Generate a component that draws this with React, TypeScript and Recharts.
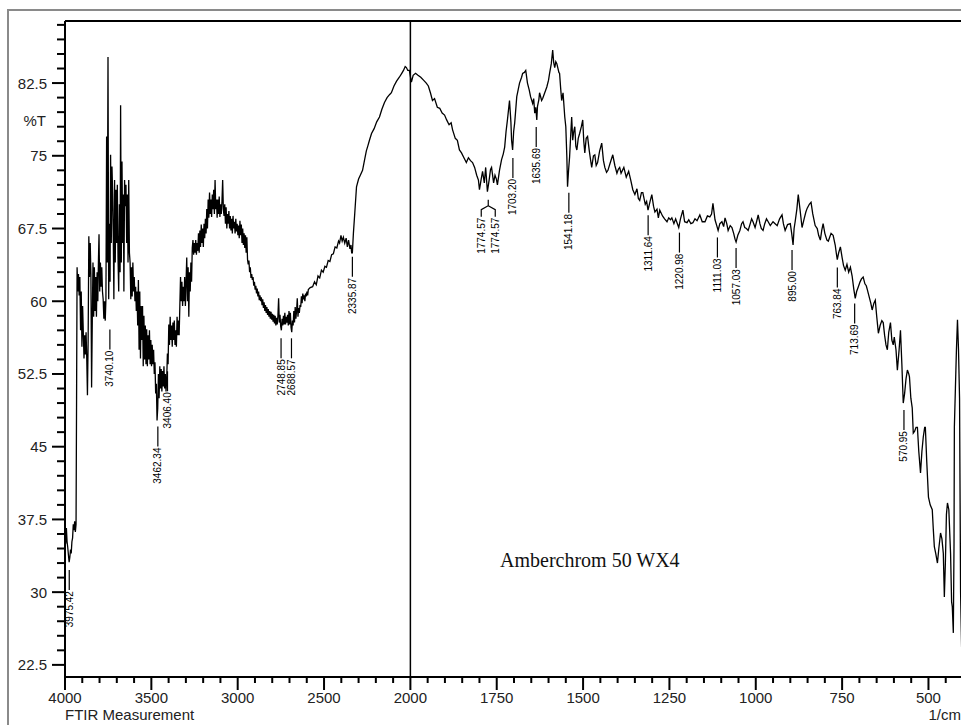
import {
  ComposedChart,
  Line,
  ReferenceDot,
  ReferenceLine,
  XAxis,
  YAxis,
} from "recharts";

// [wavenumber 1/cm, %T]
const spectrumOH: [number, number][] = [
  [4000, 36.2], [3996, 35.0], [3992, 36.6], [3988, 35.2], [3984, 34.6], [3980, 33.8],
  [3976, 33.1], [3972, 33.6], [3968, 34.4], [3964, 34.0], [3960, 35.2], [3956, 35.6],
  [3952, 37.0], [3948, 36.4], [3944, 37.3], [3940, 36.2], [3936, 37.0], [3933, 49.9],
  [3930, 63.5], [3926, 61.0], [3922, 62.8], [3918, 60.6], [3914, 62.5], [3910, 57.0],
  [3906, 61.0], [3902, 55.3], [3898, 59.5], [3894, 56.8], [3890, 54.1], [3886, 56.5],
  [3882, 54.5], [3878, 56.8], [3874, 54.1], [3870, 50.3], [3866, 56.0], [3862, 66.7],
  [3858, 62.5], [3854, 66.0], [3850, 62.8], [3846, 51.1], [3842, 58.0], [3838, 64.0],
  [3834, 58.4], [3830, 63.5], [3826, 59.0], [3822, 62.5], [3818, 58.4], [3814, 63.0],
  [3810, 60.0], [3806, 64.5], [3803, 66.9], [3799, 61.0], [3795, 64.0], [3791, 61.5],
  [3787, 63.5], [3783, 61.0], [3779, 60.2], [3775, 58.2], [3771, 60.0], [3767, 58.0],
  [3763, 60.2], [3759, 77.0], [3755, 64.0], [3751, 85.2], [3747, 60.2], [3743, 68.0],
  [3739, 62.0], [3736, 75.1], [3732, 66.0], [3728, 73.9], [3724, 71.0], [3720, 66.0],
  [3717, 60.2], [3713, 72.5], [3709, 64.0], [3705, 71.5], [3701, 66.0], [3697, 72.0],
  [3693, 64.5], [3689, 61.0], [3685, 70.0], [3681, 63.0], [3678, 80.2], [3674, 64.0],
  [3670, 74.4], [3666, 66.0], [3662, 71.0], [3659, 61.0], [3655, 72.5], [3651, 69.8],
  [3647, 72.0], [3643, 66.0], [3639, 71.0], [3635, 64.0], [3631, 72.5], [3627, 65.0],
  [3623, 64.0], [3619, 60.2], [3615, 63.5], [3611, 60.5], [3607, 64.0], [3603, 61.0],
  [3599, 62.5], [3595, 60.0], [3591, 61.5], [3587, 59.0], [3583, 61.0], [3579, 57.5],
  [3575, 62.2], [3571, 55.0], [3567, 61.0], [3563, 54.1], [3559, 59.5], [3555, 56.0],
  [3551, 59.5], [3547, 53.3], [3543, 58.5], [3539, 54.0], [3535, 57.5], [3531, 53.5],
  [3527, 57.1], [3523, 53.3], [3519, 56.5], [3515, 54.0], [3511, 57.0], [3507, 53.5],
  [3503, 56.0], [3499, 53.3], [3495, 55.5], [3491, 53.5], [3487, 55.0], [3483, 52.5],
  [3479, 53.7], [3475, 50.5], [3471, 51.5], [3467, 47.7], [3463, 49.0], [3459, 52.5],
  [3455, 50.0], [3451, 53.3], [3447, 51.0], [3443, 53.0], [3439, 50.7], [3435, 52.8],
  [3431, 51.2], [3427, 53.3], [3423, 51.0], [3419, 52.5], [3415, 50.7], [3411, 52.0],
  [3407, 54.6], [3403, 53.5], [3399, 57.6], [3395, 55.5], [3391, 58.4], [3387, 56.0],
  [3383, 57.5], [3379, 55.3], [3375, 57.8], [3371, 56.0], [3367, 58.0], [3363, 55.5],
  [3359, 57.0], [3355, 55.3], [3351, 58.4], [3347, 56.5], [3343, 58.0], [3339, 56.5],
  [3335, 59.5], [3331, 62.5], [3327, 60.0], [3323, 62.0], [3319, 59.5], [3315, 61.5],
  [3311, 60.0], [3307, 62.5], [3303, 59.5], [3299, 62.0], [3295, 64.5], [3291, 60.0],
  [3287, 63.5], [3283, 58.4], [3279, 63.0], [3275, 61.0], [3271, 64.0], [3267, 62.0],
  [3263, 65.5], [3259, 66.3], [3255, 64.8], [3251, 66.0], [3247, 65.0], [3243, 66.3],
  [3239, 64.8], [3235, 66.0], [3231, 65.2], [3227, 67.0], [3223, 65.0], [3219, 67.3],
  [3215, 65.6], [3211, 67.9], [3207, 66.0], [3203, 67.5], [3199, 65.6], [3195, 68.0],
  [3191, 66.5], [3187, 68.5], [3183, 67.0], [3179, 69.5], [3175, 67.5], [3171, 70.5],
  [3167, 68.6], [3163, 71.2], [3159, 69.0], [3155, 70.5], [3151, 68.7], [3147, 71.0],
  [3143, 69.5], [3139, 71.5], [3135, 69.0], [3131, 72.5], [3127, 69.5], [3123, 70.5],
  [3119, 68.6], [3115, 70.5], [3111, 69.0], [3107, 70.8], [3103, 68.7], [3099, 70.0],
  [3095, 69.0], [3091, 70.3], [3087, 72.5], [3083, 69.5], [3079, 68.8], [3075, 70.0],
  [3071, 68.0], [3067, 69.7], [3063, 67.5], [3059, 69.0], [3055, 68.0], [3051, 69.3],
  [3047, 67.5], [3043, 68.8], [3039, 67.3], [3035, 68.5], [3031, 67.0], [3027, 68.8],
  [3023, 67.5], [3019, 68.2], [3015, 67.0], [3011, 68.5], [3007, 67.2], [3003, 68.0],
];

const spectrumCH: [number, number][] = [
  [2999, 66.8], [2995, 67.8], [2991, 66.5], [2987, 68.3], [2983, 66.8], [2979, 67.9],
  [2975, 66.0], [2971, 67.5], [2967, 65.8], [2963, 67.0], [2959, 65.5], [2955, 66.8],
  [2951, 65.0], [2947, 66.6], [2943, 64.3], [2939, 63.8], [2935, 64.2], [2931, 63.0],
  [2927, 63.5], [2923, 62.4], [2919, 62.8], [2915, 62.2], [2911, 62.5], [2907, 61.6],
  [2903, 62.0], [2899, 61.2], [2895, 61.6], [2891, 60.8], [2887, 61.3], [2883, 60.5],
  [2879, 61.0], [2875, 60.1], [2871, 60.6], [2867, 60.0], [2863, 60.4], [2859, 59.6],
  [2855, 60.2], [2851, 59.3], [2847, 59.9], [2843, 59.0], [2839, 59.6], [2835, 58.8],
  [2831, 59.4], [2827, 58.6], [2823, 59.2], [2819, 58.4], [2815, 59.0], [2811, 58.2],
  [2807, 58.9], [2803, 58.1], [2799, 58.7], [2795, 57.9], [2791, 58.6], [2787, 57.7],
  [2783, 58.5], [2779, 57.5], [2775, 58.3], [2771, 57.6], [2767, 58.5], [2763, 60.3],
  [2759, 57.8], [2755, 58.6], [2751, 57.4], [2747, 57.0], [2743, 58.2], [2739, 57.5],
  [2735, 58.5], [2731, 57.6], [2727, 58.8], [2723, 57.6], [2719, 58.4], [2715, 57.8],
  [2711, 58.6], [2707, 57.5], [2703, 59.0], [2699, 57.6], [2695, 58.8], [2691, 57.3],
  [2687, 56.8], [2683, 58.0], [2679, 57.5], [2675, 59.0], [2671, 57.8], [2667, 59.4],
  [2663, 58.2], [2659, 59.0], [2655, 60.3], [2651, 58.4], [2647, 59.3], [2643, 58.8],
  [2639, 59.6], [2635, 59.4], [2631, 60.5], [2627, 59.8], [2623, 60.8], [2619, 60.2],
  [2615, 60.6], [2611, 60.0], [2607, 60.8], [2603, 60.5], [2599, 61.0], [2595, 60.6],
  [2591, 61.2], [2580, 61.4], [2566, 61.5], [2555, 62.0], [2545, 61.7], [2535, 62.6],
  [2525, 62.4], [2515, 63.2], [2505, 63.0], [2495, 63.6], [2486, 63.5], [2476, 64.2],
  [2466, 64.1], [2456, 64.8], [2446, 64.9], [2436, 65.6], [2426, 65.5], [2416, 66.2],
  [2410, 66.0], [2402, 66.8], [2395, 66.2], [2388, 66.6], [2380, 66.0], [2372, 66.5],
  [2365, 65.6], [2358, 66.3], [2350, 65.4], [2344, 65.8], [2340, 65.0], [2336, 65.0],
  [2330, 67.0], [2322, 69.1], [2312, 71.8], [2300, 72.6], [2290, 73.0], [2277, 73.5],
  [2265, 74.6], [2255, 75.5], [2245, 76.1], [2237, 76.6], [2225, 77.3], [2210, 77.8],
  [2195, 78.5], [2179, 79.0], [2165, 79.8], [2150, 80.5], [2135, 81.0], [2121, 81.3],
  [2110, 81.5], [2095, 82.2], [2080, 82.7], [2064, 83.1], [2050, 83.5], [2040, 83.8],
  [2030, 84.2], [2023, 84.1], [2015, 83.8], [2006, 83.8], [2001, 83.3],
];

const spectrumFingerprint: [number, number][] = [
  [1997, 82.6], [1992, 83.3], [1985, 83.5], [1978, 83.3], [1970, 83.1], [1962, 82.8],
  [1954, 82.5], [1948, 82.2], [1942, 81.5], [1936, 80.7], [1930, 80.9], [1922, 80.0],
  [1915, 79.9], [1908, 79.4], [1901, 79.2], [1895, 78.7], [1888, 78.2], [1882, 78.4],
  [1878, 77.7], [1870, 76.8], [1864, 76.6], [1858, 75.6], [1852, 75.3], [1845, 74.8],
  [1838, 74.3], [1832, 74.8], [1826, 74.5], [1820, 74.3], [1814, 73.8], [1808, 73.0],
  [1803, 72.5], [1800, 71.5], [1795, 72.6], [1791, 73.4], [1786, 72.2], [1782, 73.8],
  [1777, 71.3], [1772, 72.5], [1768, 73.6], [1765, 73.8], [1759, 72.2], [1755, 73.0],
  [1751, 72.6], [1748, 72.0], [1742, 73.5], [1736, 74.6], [1731, 75.2], [1727, 75.9],
  [1723, 77.5], [1719, 78.7], [1713, 80.7], [1709, 78.5], [1707, 76.6], [1704, 75.6],
  [1701, 77.5], [1698, 78.4], [1692, 81.1], [1688, 81.8], [1684, 82.5], [1678, 83.1],
  [1675, 83.5], [1670, 83.6], [1666, 83.8], [1661, 82.5], [1656, 81.8], [1652, 81.1],
  [1646, 80.4], [1643, 80.9], [1640, 79.4], [1637, 80.0], [1634, 78.7], [1632, 80.1],
  [1628, 80.8], [1626, 81.5], [1620, 80.7], [1617, 80.9], [1611, 81.5], [1605, 82.1],
  [1600, 82.8], [1597, 83.5], [1592, 84.5], [1588, 85.9], [1585, 84.6], [1582, 84.1],
  [1579, 84.7], [1576, 84.5], [1570, 83.6], [1568, 83.5], [1565, 82.0], [1562, 80.7],
  [1558, 81.5], [1553, 79.0], [1550, 78.0], [1547, 74.9], [1545, 71.8], [1542, 73.5],
  [1539, 74.9], [1536, 77.0], [1533, 79.0], [1530, 76.6], [1527, 77.5], [1524, 78.0],
  [1521, 76.0], [1518, 75.6], [1514, 76.8], [1510, 77.3], [1505, 78.0], [1501, 78.7],
  [1498, 76.5], [1495, 75.3], [1491, 76.8], [1487, 77.0], [1482, 75.5], [1478, 74.5],
  [1475, 73.8], [1470, 75.0], [1466, 75.1], [1462, 74.0], [1458, 74.3], [1452, 75.5],
  [1446, 76.3], [1441, 74.5], [1437, 73.8], [1432, 73.3], [1428, 73.5], [1422, 74.2],
  [1414, 75.1], [1408, 74.0], [1402, 73.2], [1398, 73.6], [1394, 73.8], [1390, 73.2],
  [1382, 73.8], [1375, 72.8], [1368, 73.4], [1362, 72.5], [1356, 71.5], [1350, 71.0],
  [1344, 71.6], [1340, 70.6], [1336, 70.4], [1331, 71.2], [1327, 71.2], [1320, 70.0],
  [1316, 70.3], [1312, 69.4], [1306, 70.3], [1301, 71.0], [1296, 69.8], [1292, 69.2],
  [1286, 69.5], [1282, 68.6], [1278, 69.4], [1270, 68.8], [1264, 68.5], [1257, 68.2],
  [1252, 68.6], [1247, 68.4], [1243, 68.6], [1237, 68.0], [1232, 68.5], [1228, 68.1],
  [1223, 67.6], [1218, 68.5], [1211, 69.4], [1206, 68.2], [1199, 68.1], [1194, 68.4],
  [1188, 68.0], [1182, 68.1], [1176, 68.5], [1170, 68.3], [1162, 68.9], [1155, 68.2],
  [1147, 68.2], [1140, 68.8], [1133, 68.7], [1128, 69.0], [1124, 70.1], [1118, 68.4],
  [1113, 67.8], [1109, 67.3], [1104, 68.0], [1098, 68.2], [1093, 67.7], [1089, 68.6],
  [1084, 68.0], [1080, 67.3], [1074, 67.8], [1069, 67.6], [1064, 67.0], [1060, 66.4],
  [1057, 66.1], [1052, 66.8], [1046, 67.3], [1041, 68.0], [1037, 68.2], [1032, 67.6],
  [1027, 67.5], [1022, 67.3], [1016, 68.0], [1012, 68.5], [1008, 68.2], [1002, 67.6],
  [997, 68.3], [993, 68.9], [988, 68.0], [984, 67.5], [979, 67.3], [974, 68.0],
  [969, 68.5], [964, 68.2], [958, 67.8], [950, 68.2], [944, 68.0], [938, 67.8],
  [931, 68.5], [924, 68.9], [920, 68.0], [915, 67.3], [908, 67.9], [900, 68.0],
  [896, 67.0], [892, 65.8], [889, 67.5], [886, 68.2], [881, 69.5], [877, 71.0],
  [872, 69.5], [866, 67.6], [860, 68.5], [855, 69.2], [851, 69.6], [845, 70.0],
  [840, 70.2], [835, 69.0], [828, 67.8], [822, 67.5], [818, 66.8], [813, 66.3],
  [809, 67.3], [805, 68.0], [800, 67.0], [794, 66.3], [790, 66.2], [786, 66.6],
  [782, 67.0], [776, 66.8], [770, 65.8], [767, 65.0], [764, 64.3], [760, 65.0],
  [755, 65.6], [750, 64.5], [746, 63.7], [741, 63.2], [736, 63.8], [731, 63.0],
  [726, 63.5], [721, 62.6], [716, 61.2], [712, 60.3], [708, 61.0], [703, 61.5],
  [698, 62.0], [694, 62.3], [689, 62.5], [684, 61.8], [680, 61.6], [677, 61.2],
  [672, 60.5], [667, 59.8], [663, 59.1], [658, 59.8], [654, 60.1], [650, 58.5],
  [645, 56.7], [640, 57.5], [635, 58.0], [631, 57.8], [627, 56.5], [623, 55.5],
  [619, 55.0], [615, 56.8], [610, 57.8], [606, 56.0], [602, 55.5], [599, 56.3],
  [594, 55.0], [590, 52.9], [585, 55.0], [581, 57.0], [577, 53.5], [573, 49.5],
  [569, 50.5], [565, 52.0], [561, 52.9], [557, 52.5], [555, 52.2], [551, 50.0],
  [547, 49.0], [544, 46.4], [540, 46.6], [536, 47.0], [532, 47.0], [528, 44.5],
  [523, 42.3], [519, 44.5], [515, 46.0], [511, 47.0], [509, 47.0], [505, 43.5],
  [500, 39.8], [495, 39.0], [489, 38.5], [486, 36.5], [483, 34.7], [479, 34.0],
  [474, 33.0], [470, 34.5], [465, 36.1], [461, 35.5], [457, 34.0], [454, 29.5],
  [451, 33.0], [448, 38.0], [445, 39.2], [441, 38.5], [436, 34.0], [433, 29.0],
  [431, 28.5], [428, 25.8], [426, 35.0], [425, 47.0], [422, 51.0], [419, 55.0],
  [416, 58.1], [413, 55.0], [410, 50.0], [407, 30.0], [404, 24.3], [401, 25.5],
];

// picked peaks: wavenumber and %T at the marker
const peaks: [number, number][] = [
  [3975.42, 33.0], [3740.1, 57.8], [3462.34, 47.8], [3406.4, 53.5],
  [2748.85, 56.9], [2688.57, 56.9], [2335.87, 65.3], [1774.57, 71.3],
  [1703.2, 75.5], [1635.69, 78.7], [1541.18, 71.9], [1311.64, 69.6],
  [1220.98, 67.8], [1111.03, 67.3], [1057.03, 66.2], [895.0, 66.0],
  [763.84, 64.2], [713.69, 60.5], [570.95, 49.5],
];
const peakLabels = [
  "3975.42", "3740.10", "3462.34", "3406.40", "2748.85", "2688.57", "2335.87",
  "1774.57", "1703.20", "1635.69", "1541.18", "1311.64", "1220.98", "1111.03",
  "1057.03", "895.00", "763.84", "713.69", "570.95",
];

const xMajorTicks = [4000, 3500, 3000, 2500, 2000, 1750, 1500, 1250, 1000, 750, 500];
const yMajorTicks = [22.5, 30, 37.5, 45, 52.5, 60, 67.5, 75, 82.5];

const Y_MIN = 21.25;
const Y_MAX = 88.9;
const FONT = "'Liberation Sans', Arial, sans-serif";

// instrument plot: above 2000 1/cm the axis runs at half scale
const toAxis = (wn: number) => (wn > 2000 ? 2000 + (wn - 2000) / 2 : wn);
const fromAxis = (u: number) => (u > 2000 ? 2000 + (u - 2000) * 2 : u);

const data = [...spectrumOH, ...spectrumCH, ...spectrumFingerprint].map(
  ([wn, t]) => ({ u: toAxis(wn), t })
);

const xTicks: number[] = [];
for (let wn = 4000; wn > 2000; wn -= 100) xTicks.push(toAxis(wn));
for (let wn = 2000; wn >= 400; wn -= 50) xTicks.push(wn);
const yTicks: number[] = [];
for (let i = 0; i <= 44; i++) yTicks.push(22.5 + i * 1.5);

function XTick({ x, y, payload }: any) {
  const wn = Math.round(fromAxis(payload.value));
  const major = xMajorTicks.includes(wn);
  return (
    <g>
      <line x1={x} x2={x} y1={y} y2={y + (major ? 13 : 6)} stroke="#000" strokeWidth={2} />
      {major && (
        <text x={x} y={y + 26} textAnchor="middle" fontSize={15} fontFamily={FONT} fill="#222">
          {wn}
        </text>
      )}
    </g>
  );
}

function YTick({ x, y, payload }: any) {
  const major = yMajorTicks.includes(payload.value);
  return (
    <g>
      <line x1={x - (major ? 13 : 8)} x2={x} y1={y} y2={y} stroke="#000" strokeWidth={2} />
      {major && (
        <text x={x - 18} y={y} textAnchor="end" dominantBaseline="central" fontSize={15} fontFamily={FONT} fill="#222">
          {payload.value}
        </text>
      )}
    </g>
  );
}

function PeakLabel({ x, y, text }: { x: number; y: number; text: string }) {
  return (
    <text
      x={x}
      y={y}
      transform={`rotate(-90 ${x} ${y})`}
      textAnchor="end"
      dominantBaseline="central"
      fontSize={10}
      fontFamily={FONT}
      fill="#000"
    >
      {text}
    </text>
  );
}

function PeakMark({ cx, cy, text, twin }: any) {
  if (twin) {
    return (
      <g>
        <path
          d={`M${cx},${cy + 8} v6 l-7,4 v7 M${cx},${cy + 14} l7,4 v7`}
          fill="none"
          stroke="#000"
          strokeWidth={1.2}
        />
        <PeakLabel x={cx - 7} y={cy + 26} text={text} />
        <PeakLabel x={cx + 7} y={cy + 26} text={text} />
      </g>
    );
  }
  return (
    <g>
      <line x1={cx} x2={cx} y1={cy + 7} y2={cy + 27} stroke="#000" strokeWidth={1.2} />
      <PeakLabel x={cx} y={cy + 28} text={text} />
    </g>
  );
}

export default function App() {
  return (
    <div
      style={{
        position: "fixed",
        left: 0,
        top: 0,
        width: 961,
        height: 725,
        overflow: "hidden",
        background: "#fff",
      }}
    >
      <div
        style={{
          position: "absolute",
          left: 7,
          top: 9,
          width: 1000,
          height: 1000,
          borderLeft: "2px solid #8a8a8a",
          borderTop: "2px solid #8a8a8a",
        }}
      />
      <div style={{ position: "absolute", left: 0, top: 0 }}>
        <ComposedChart
          width={963}
          height={725}
          data={data}
          margin={{ top: 21, right: 0, bottom: 0, left: 0 }}
        >
          <XAxis
            dataKey="u"
            type="number"
            domain={[400, 3000]}
            reversed
            allowDataOverflow
            ticks={xTicks}
            interval={0}
            tick={<XTick />}
            tickLine={false}
            tickSize={0}
            tickMargin={0}
            height={48}
            axisLine={{ stroke: "#000", strokeWidth: 2 }}
          />
          <YAxis
            type="number"
            domain={[Y_MIN, Y_MAX]}
            allowDataOverflow
            ticks={yTicks}
            interval={0}
            tick={<YTick />}
            tickLine={false}
            tickSize={0}
            tickMargin={0}
            width={65}
            axisLine={{ stroke: "#000", strokeWidth: 2 }}
          />
          <ReferenceLine y={Y_MAX} stroke="#000" strokeWidth={2} />
          <ReferenceLine x={2000} stroke="#000" strokeWidth={1.5} />
          <Line
            type="linear"
            dataKey="t"
            stroke="#000"
            strokeWidth={1.3}
            dot={false}
            isAnimationActive={false}
          />
          {peaks.map(([wn, t], i) => (
            <ReferenceDot
              key={peakLabels[i]}
              x={toAxis(wn)}
              y={t}
              r={0}
              shape={(p: any) => (
                <PeakMark cx={p.cx} cy={p.cy} text={peakLabels[i]} twin={peakLabels[i] === "1774.57"} />
              )}
            />
          ))}
        </ComposedChart>
      </div>
      <svg
        width={961}
        height={725}
        style={{ position: "absolute", left: 0, top: 0, pointerEvents: "none" }}
      >
        <text x={46} y={120} textAnchor="end" dominantBaseline="central" fontSize={15} fontFamily={FONT} fill="#222">
          %T
        </text>
        <text x={65} y={720} fontSize={15} fontFamily={FONT} fill="#222">
          FTIR Measurement
        </text>
        <text x={961} y={720} textAnchor="end" fontSize={15} fontFamily={FONT} fill="#222">
          1/cm
        </text>
        <text x={500} y={567} fontSize={20} fontFamily="'Liberation Serif', 'Times New Roman', serif" fill="#111">
          Amberchrom 50 WX4
        </text>
      </svg>
    </div>
  );
}
